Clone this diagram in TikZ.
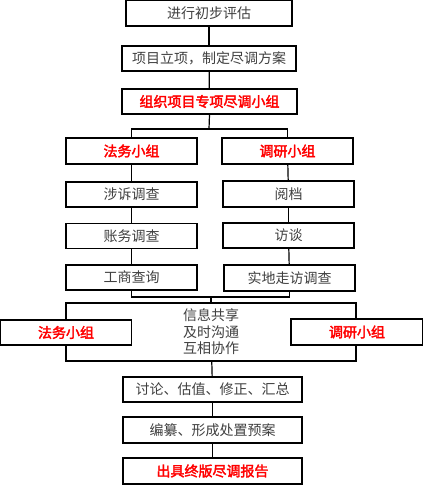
\documentclass[tikz,border=0pt]{standalone}
\usepackage{fontspec}
\setmainfont{Noto Sans CJK SC}[AutoFakeBold=2.5]
\definecolor{textgray}{HTML}{404040}

\tikzset{
    stepbox/.style={
        draw,
        line width=1.2pt,
        fill=white,
        text=textgray,
        font=\fontsize{14}{16.5}\selectfont,
        inner sep=0pt
    },
    keybox/.style={
        stepbox,
        text=red,
        font=\fontsize{14}{16.5}\selectfont\bfseries
    },
    link/.style={line width=1.2pt}
}

\begin{document}
\begin{tikzpicture}[x=1pt,y=-1pt]
\useasboundingbox (0,0) rectangle (423,485);

% top of the chain
\node[stepbox, minimum width=166pt, minimum height=26pt] (eval) at (209,13) {进行初步评估};
\node[stepbox, minimum width=174pt, minimum height=25pt] (plan) at (209,58.5) {项目立项，制定尽调方案};
\node[keybox, minimum width=175pt, minimum height=25pt] (team) at (209.5,101.5) {组织项目专项尽调小组};

% the two groups
\node[keybox, minimum width=131pt, minimum height=26pt] (lawA) at (131.5,151) {法务小组};
\node[keybox, minimum width=131pt, minimum height=26pt] (resA) at (287.5,151) {调研小组};

\node[stepbox, minimum width=131pt, minimum height=25pt] (lit) at (131.5,194.5) {涉诉调查};
\node[stepbox, minimum width=131pt, minimum height=25pt] (acct) at (131.5,236) {账务调查};
\node[stepbox, minimum width=131pt, minimum height=25pt] (biz) at (131.5,277.5) {工商查询};

\node[stepbox, minimum width=131pt, minimum height=26pt] (arch) at (288.5,194) {阅档};
\node[stepbox, minimum width=131pt, minimum height=25pt] (talk) at (288.5,235.5) {访谈};
\node[stepbox, minimum width=131pt, minimum height=26pt] (visit) at (289.5,278) {实地走访调查};

% joint work
\node[stepbox, minimum width=290pt, minimum height=58pt, align=center] (share) at (211,332)
    {信息共享\\及时沟通\\互相协作};
\node[keybox, minimum width=131pt, minimum height=25pt] (lawB) at (66,332.5) {法务小组};
\node[keybox, minimum width=132pt, minimum height=26pt] (resB) at (357,332) {调研小组};

% closing steps
\node[stepbox, minimum width=179pt, minimum height=25pt] (disc) at (212.5,389.5) {讨论、估值、修正、汇总};
\node[stepbox, minimum width=179pt, minimum height=26pt] (draft) at (212.5,430) {编纂、形成处置预案};
\node[keybox, minimum width=179pt, minimum height=26pt] (report) at (212.5,471) {出具终版尽调报告};

\coordinate (split) at (209,129);
\coordinate (merge) at (211,297);

\draw[link] (eval) -- (plan);
\draw[link] (plan) -- (team);
\draw[link] (team.south) -- (split);
\draw[link] (lawA.north) |- (split) -| (resA.north);
\draw[link] (lawA) -- (lit);
\draw[link] (lit) -- (acct);
\draw[link] (acct) -- (biz);
\draw[link] (resA) -- (arch);
\draw[link] (arch) -- (talk);
\draw[link] (talk) -- (visit);
\draw[link] (biz.south) |- (merge) -| (visit.south);
\draw[link] (merge) -- (share.north);
\draw[link] (share) -- (disc);
\draw[link] (disc) -- (draft);
\draw[link] (draft) -- (report);
\end{tikzpicture}
\end{document}
